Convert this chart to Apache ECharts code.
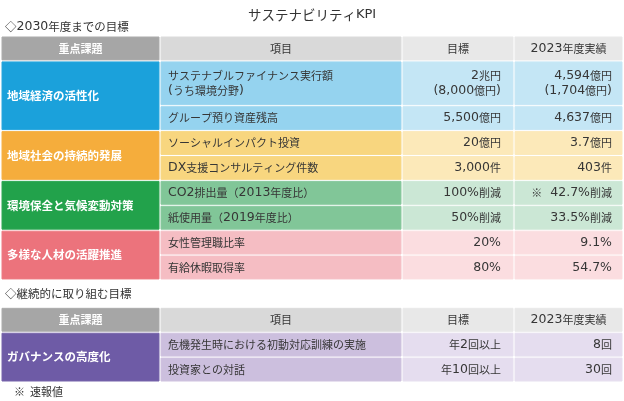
<!DOCTYPE html>
<html>
<head>
    <meta charset="utf-8">
    <title>サステナビリティKPI</title>
    <script src="https://cdn.jsdelivr.net/npm/echarts@6/dist/echarts.min.js"></script>
    <style>
        html, body { margin: 0; padding: 0; background: #fff; }
    </style>
</head>
<body>
    <div id="main" style="width: 624px;height:401px;"></div>
    <script type="text/javascript">
    // 表の中身
    var headers = ['重点課題', '項目', '目標', '2023年度実績'];
    var sections = ['◇2030年度までの目標', '◇継続的に取り組む目標'];
    var themes = ['地域経済の活性化', '地域社会の持続的発展', '環境保全と気候変動対策', '多様な人材の活躍推進', 'ガバナンスの高度化'];
    var themeSection = [0, 0, 0, 0, 1];
    var items = ['サステナブルファイナンス実行額\n(うち環境分野)', 'グループ預り資産残高', 'ソーシャルインパクト投資', 'DX支援コンサルティング件数',
        'CO2排出量（2013年度比）', '紙使用量（2019年度比）', '女性管理職比率', '有給休暇取得率',
        '危機発生時における初動対応訓練の実施', '投資家との対話'];
    var itemTheme = [0, 0, 1, 1, 2, 2, 3, 3, 4, 4];
    var targets = ['2兆円\n(8,000億円)', '5,500億円', '20億円', '3,000件', '100%削減', '50%削減', '20%', '80%', '年2回以上', '年10回以上'];
    var results = ['4,594億円\n(1,704億円)', '4,637億円', '3.7億円', '403件', '※  42.7%削減', '33.5%削減', '9.1%', '54.7%', '8回', '30回'];
    var footnote = '※  速報値';

    // 見た目
    var CJK = '"Noto Sans CJK JP", sans-serif';
    var LATIN = '"DejaVu Sans", sans-serif';
    var colEdges = [0, 159, 401, 513, 620];
    var themeColors = [
        ['#1ba1db', '#95d3ef', '#c4e6f5'],
        ['#f5ad3c', '#f8d67f', '#fce9b9'],
        ['#22a24b', '#81c698', '#cbe7d5'],
        ['#ec737c', '#f5bdc3', '#fbdde0'],
        ['#6e5ba6', '#ccbfde', '#e5ddef']
    ];
    var headColors = ['#a6a6a6', '#d9d9d9', '#e8e8e8', '#e8e8e8'];
    var textColor = '#363636';

    // 英数字だけ少し大きい書体にする
    function richify(str) {
        return str.replace(/[\x20-\x7E]+/g, function (m) { return '{n|' + m + '}'; });
    }
    function richStyle(color, latinSize) {
        return {n: {fontFamily: LATIN, fontSize: latinSize || 12.5, fill: color, lineHeight: 15}};
    }

    // セルを組み立てる
    var cells = [];
    var y = 0;
    sections.forEach(function (sec, s) {
        if (s > 0) y += 1.1;
        headers.forEach(function (h, c) {
            cells.push({col: c, y0: y, y1: y + 1, text: h, kind: 'head'});
        });
        y += 1;
        themes.forEach(function (t, ti) {
            if (themeSection[ti] !== s) return;
            var start = y;
            items.forEach(function (it, i) {
                if (itemTheme[i] !== ti) return;
                var h = it.indexOf('\n') >= 0 ? 1.8 : 1;
                cells.push({col: 1, y0: y, y1: y + h, text: it, kind: 'body', theme: ti});
                cells.push({col: 2, y0: y, y1: y + h, text: targets[i], kind: 'body', theme: ti});
                cells.push({col: 3, y0: y, y1: y + h, text: results[i], kind: 'body', theme: ti});
                y += h;
            });
            cells.push({col: 0, y0: start, y1: y, text: t, kind: 'theme', theme: ti});
        });
    });
    var totalRows = y;

    function renderCell(params, api) {
        var cell = cells[params.dataIndex];
        var p0 = api.coord([colEdges[cell.col], cell.y0]);
        var p1 = api.coord([colEdges[cell.col + 1], cell.y1]);
        var gapX = cell.col < 3 ? 2 : 0;
        var x = p0[0], top = p0[1];
        var w = p1[0] - p0[0] - gapX;
        var h = p1[1] - p0[1] - 2;
        var fill, color = textColor, weight = 'normal', size = 11;
        if (cell.kind === 'head') {
            fill = headColors[cell.col];
            if (cell.col === 0) { color = '#fff'; weight = 'bold'; }
        } else {
            fill = themeColors[cell.theme][Math.min(cell.col, 2)];
            if (cell.col === 0) { color = '#fff'; weight = 'bold'; size = 11.5; }
        }
        var tx, align;
        if (cell.kind === 'head') { tx = x + w / 2; align = 'center'; }
        else if (cell.col === 0) { tx = x + 5; align = 'left'; }
        else if (cell.col === 1) { tx = x + 7; align = 'left'; }
        else if (cell.col === 2) { tx = x + w - 12; align = 'right'; }
        else { tx = x + w - 10; align = 'right'; }
        return {
            type: 'group',
            children: [{
                type: 'rect',
                shape: {x: x, y: top, width: w, height: h},
                style: {fill: fill, stroke: echarts.color.lift(fill, 0.06), lineWidth: 1}
            }, {
                type: 'text',
                style: {
                    text: richify(cell.text), rich: richStyle(color),
                    x: tx, y: top + h / 2,
                    align: align, verticalAlign: 'middle',
                    fill: color, fontSize: size, fontWeight: weight,
                    fontFamily: CJK, lineHeight: 15
                }
            }]
        };
    }

    var myChart = echarts.init(document.getElementById('main'));
    var option = {
        animation: false,
        title: {
            text: richify('サステナビリティKPI'),
            left: 'center', top: 3,
            textStyle: {fontSize: 13.5, fontWeight: 'normal', color: '#333', fontFamily: CJK,
                rich: {n: {fontSize: 13, fontFamily: LATIN, color: '#333'}}}
        },
        grid: {left: 2, right: 2, top: 37, bottom: 18},
        xAxis: {type: 'value', min: 0, max: colEdges[4], show: false},
        yAxis: {type: 'value', min: 0, max: totalRows, inverse: true, show: false},
        graphic: [
            {type: 'text', left: 5, top: 20, style: {text: richify(sections[0]), rich: richStyle('#333'), fontSize: 11.5, fill: '#333', fontFamily: CJK}},
            {type: 'text', left: 5, top: 288, style: {text: sections[1], fontSize: 11.5, fill: '#333', fontFamily: CJK}},
            {type: 'text', left: 14, top: 386, style: {text: footnote, fontSize: 11, fill: '#333', fontFamily: CJK}}
        ],
        series: [{
            type: 'custom',
            coordinateSystem: 'cartesian2d',
            renderItem: renderCell,
            data: cells.map(function (c) { return [colEdges[c.col], c.y0, c.y1]; }),
            silent: true
        }]
    };
    myChart.setOption(option);
    </script>
</body>
</html>
